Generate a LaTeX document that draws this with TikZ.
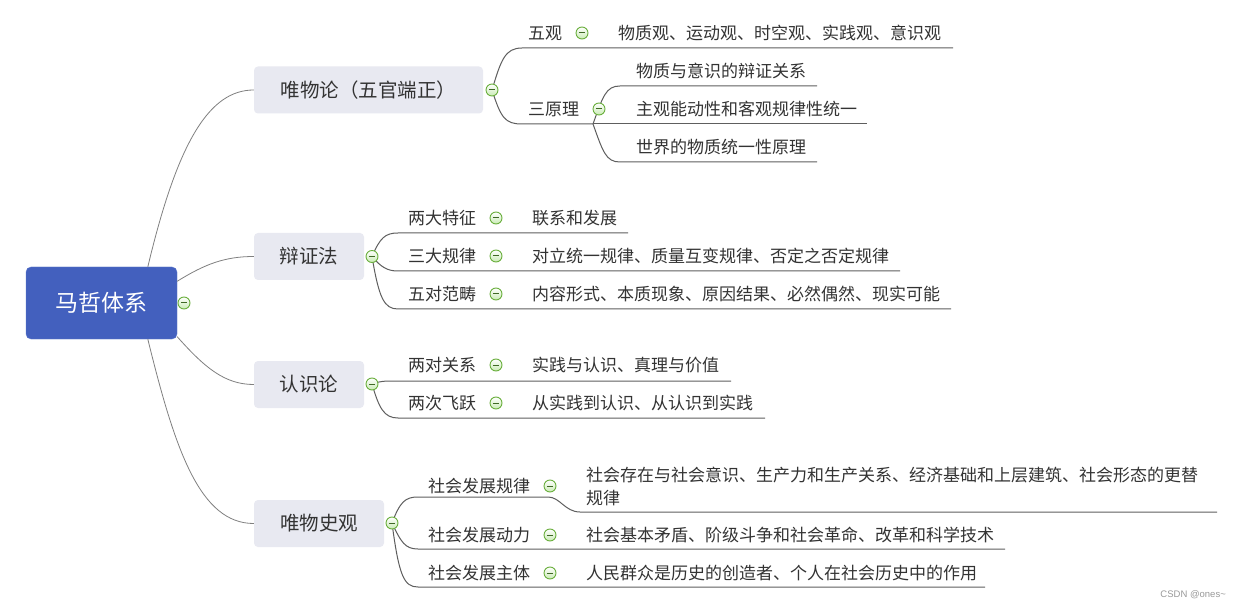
\documentclass[tikz,border=0pt]{standalone}
\usepackage{fontspec}
\setmainfont{Noto Sans CJK SC}
\newfontfamily\wmfont{Liberation Sans}
\definecolor{rootblue}{HTML}{4360BE}
\definecolor{rootborder}{HTML}{5C78CC}
\definecolor{lvbox}{HTML}{E8E9F1}
\definecolor{connc}{HTML}{808080}
\definecolor{ulinec}{HTML}{5E5E5E}
\definecolor{txt}{HTML}{333333}
\definecolor{foldgreen}{HTML}{6AAF3D}
\definecolor{foldfill}{HTML}{C9EBB4}
\begin{document}
\begin{tikzpicture}[x=1pt,y=-1pt,
  rootbox/.style={draw=rootborder, fill=rootblue, rounded corners=5pt, minimum width=151pt, minimum height=72pt, text=white, font=\fontsize{23}{28}\selectfont, inner sep=0pt},
  lonebox/.style={fill=lvbox, rounded corners=4pt, minimum height=47pt, text=txt, font=\fontsize{19.5}{24}\selectfont, inner sep=0pt},
  ltext/.style={anchor=west, inner sep=0pt, text=txt, font=\fontsize{17}{23}\selectfont, align=left},
  fold/.style={circle, draw=foldgreen, line width=0.9pt, top color=white, bottom color=foldfill, minimum size=12pt, inner sep=0pt,
    path picture={\draw[foldgreen!60!black, line width=1pt] ([xshift=-3.2pt]path picture bounding box.center) -- ([xshift=3.2pt]path picture bounding box.center);}},
  conn/.style={draw=connc, line width=0.8pt},
  uline/.style={draw=ulinec, line width=1pt}]
\useasboundingbox[fill=white] (0,0) rectangle (1241,609);

% main nodes
\node[rootbox] (root) at (101.5,303) {马哲体系};
\node[lonebox, minimum width=229pt] (wwl) at (368.5,90) {唯物论（五官端正）};
\node[lonebox, minimum width=110pt] (bzf) at (309,256.5) {辩证法};
\node[lonebox, minimum width=110pt] (rsl) at (309,384.5) {认识论};
\node[lonebox, minimum width=130pt] (wwsg) at (319,523.5) {唯物史观};

% root connectors
\draw[conn] (root.38) .. controls (178,140) and (210,90) .. (wwl.west);
\draw[conn] (root.16) .. controls (205,264) and (225,256.5) .. (bzf.west);
\draw[conn] (root.-24) .. controls (205,368) and (225,384.5) .. (rsl.west);
\draw[conn] (root.-38) .. controls (175,450) and (200,523.5) .. (wwsg.west);

% coordinates for underline ends
\coordinate (p1) at (492,90);
\coordinate (p2) at (372,256.5);
\coordinate (p3) at (372,384);
\coordinate (p4) at (392,523);
\coordinate (q1) at (593,124);

% level 2 lines: 唯物论
\draw[uline] (p1) .. controls (501,60) and (505,48) .. (522,48) -- (953,48);
\draw[uline] (p1) .. controls (501,118) and (505,124) .. (522,124) -- (q1);
\draw[uline] (q1) .. controls (603,96) and (606,86) .. (620,86) -- (817,86);
\draw[uline] (q1) -- (867,124);
\draw[uline] (q1) .. controls (603,152) and (606,162) .. (620,162) -- (817,162);

% 辩证法
\draw[uline] (p2) .. controls (380,238) and (385,233) .. (398,233) -- (628,233);
\draw[uline] (p2) .. controls (381,267) and (387,271) .. (398,271) -- (900,271);
\draw[uline] (p2) .. controls (379,298) and (384,309) .. (398,309) -- (951,309);

% 认识论
\draw[uline] (p3) .. controls (380,381) and (385,381) .. (395,381) -- (731,381);
\draw[uline] (p3) .. controls (379,408) and (384,418) .. (398,418) -- (765,418);

% 唯物史观
\draw[uline] (p4) .. controls (400,502) and (405,497) .. (418,497) -- (548,497) .. controls (560,497) and (565,512) .. (580,512) -- (1217,512);
\draw[uline] (p4) .. controls (401,542) and (405,549) .. (418,549) -- (1005,549);
\draw[uline] (p4) .. controls (399,576) and (404,587) .. (418,587) -- (985,587);

% fold markers
\node[fold] (f0) at (184,303) {};
\node[fold] (f1) at (p1) {};
\node[fold] (f2) at (p2) {};
\node[fold] (f3) at (p3) {};
\node[fold] (f4) at (p4) {};

% 唯物论 children
\node[ltext] (wg) at (528,33) {五观};
\node[fold] (fwg) at (582,33) {};
\node[ltext] (wgc) at (618,33) {物质观、运动观、时空观、实践观、意识观};
\node[ltext] (syl) at (528,109) {三原理};
\node[fold] (fsyl) at (599,109) {};
\node[ltext] (syla) at (636,71) {物质与意识的辩证关系};
\node[ltext] (sylb) at (636,109) {主观能动性和客观规律性统一};
\node[ltext] (sylc) at (636,147) {世界的物质统一性原理};

% 辩证法 children
\node[ltext] (tz) at (408,218) {两大特征};
\node[fold] (ftz) at (496,218) {};
\node[ltext] (tzc) at (532,218) {联系和发展};
\node[ltext] (gl) at (408,256) {三大规律};
\node[fold] (fgl) at (496,256) {};
\node[ltext] (glc) at (532,256) {对立统一规律、质量互变规律、否定之否定规律};
\node[ltext] (fc) at (408,294) {五对范畴};
\node[fold] (ffc) at (496,294) {};
\node[ltext] (fcc) at (532,294) {内容形式、本质现象、原因结果、必然偶然、现实可能};

% 认识论 children
\node[ltext] (gx) at (408,365) {两对关系};
\node[fold] (fgx) at (496,365) {};
\node[ltext] (gxc) at (532,365) {实践与认识、真理与价值};
\node[ltext] (fy) at (408,403) {两次飞跃};
\node[fold] (ffy) at (496,403) {};
\node[ltext] (fyc) at (532,403) {从实践到认识、从认识到实践};

% 唯物史观 children
\node[ltext] (sa) at (428,486) {社会发展规律};
\node[fold] (fsa) at (550,486) {};
\node[ltext] (sac) at (586,486) {社会存在与社会意识、生产力和生产关系、经济基础和上层建筑、社会形态的更替\\规律};
\node[ltext] (sb) at (428,535) {社会发展动力};
\node[fold] (fsb) at (550,535) {};
\node[ltext] (sbc) at (586,535) {社会基本矛盾、阶级斗争和社会革命、改革和科学技术};
\node[ltext] (sc) at (428,573) {社会发展主体};
\node[fold] (fsc) at (550,573) {};
\node[ltext] (scc) at (586,573) {人民群众是历史的创造者、个人在社会历史中的作用};

% watermark
\node[anchor=east, inner sep=0pt, text=black!40, font=\wmfont\fontsize{9.5}{11}\selectfont] (wm) at (1226,595) {CSDN @ones\textasciitilde};
\end{tikzpicture}
\end{document}
